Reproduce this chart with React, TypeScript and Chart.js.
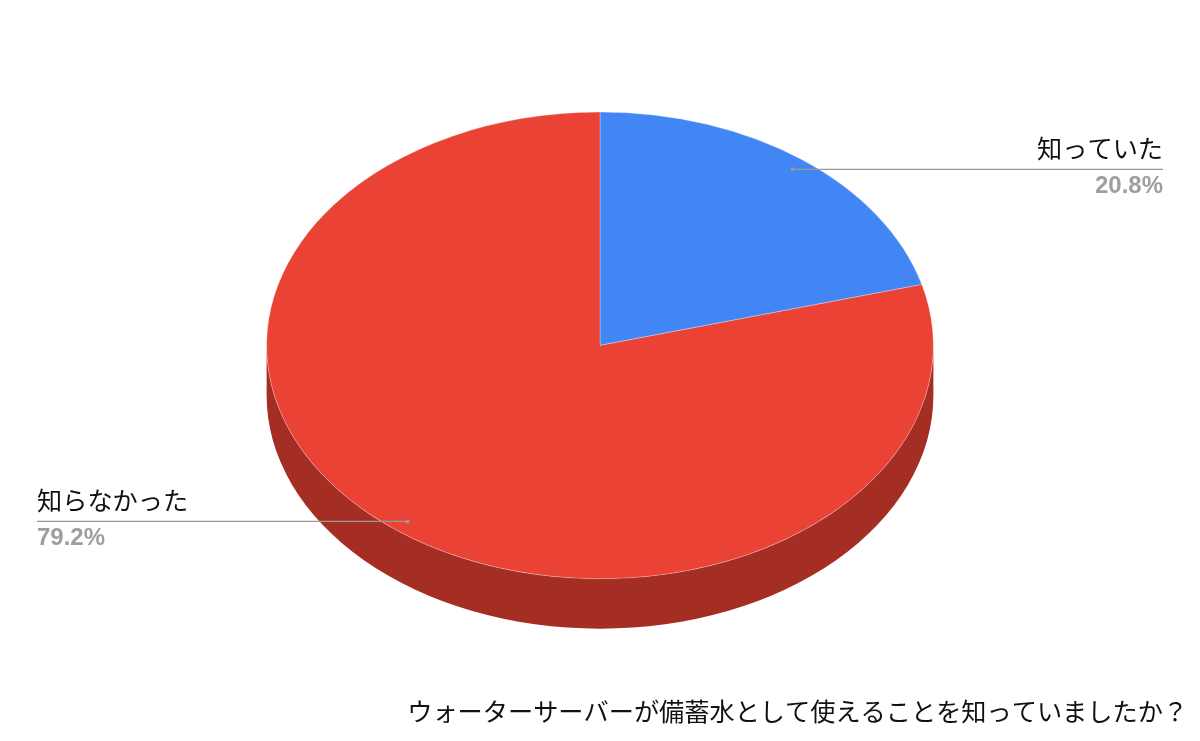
import React, { useEffect, useRef } from "react";
import { Chart, registerables } from "chart.js";

Chart.register(...registerables);

const categories = ["知っていた", "知らなかった"];
const values = [20.8, 79.2];
const percentLabels = ["20.8%", "79.2%"];
const sliceColors = ["#4285f4", "#ea4335"];
const wallColors = ["#2f5fb0", "#a52e24"];
const titleText = "ウォーターサーバーが備蓄水として使えることを知っていましたか？";

const SQUASH = 0.7;
const DEPTH = 50;
const CJK = '"Noto Sans CJK JP", sans-serif';

const piePerspective = {
  id: "piePerspective",
  beforeDatasetsDraw(chart: any) {
    const ctx = chart.ctx;
    const arcs = chart.getDatasetMeta(0).data;
    const cy = arcs[0].y;
    ctx.save();
    ctx.translate(0, cy);
    ctx.scale(1, SQUASH);
    ctx.translate(0, -cy);
    const dy = DEPTH / SQUASH;
    arcs.forEach((arc: any, i: number) => {
      const from = Math.max(arc.startAngle, 0);
      const to = Math.min(arc.endAngle, Math.PI);
      if (to <= from) return;
      ctx.beginPath();
      ctx.arc(arc.x, arc.y, arc.outerRadius, from, to, false);
      ctx.arc(arc.x, arc.y + dy, arc.outerRadius, to, from, true);
      ctx.closePath();
      ctx.fillStyle = wallColors[i];
      ctx.fill();
    });
  },
  afterDatasetsDraw(chart: any) {
    const ctx = chart.ctx;
    ctx.restore();
    const arcs = chart.getDatasetMeta(0).data;
    const anchors = [
      { lineEnd: 1163, align: "right" },
      { lineEnd: 37, align: "left" },
    ];
    arcs.forEach((arc: any, i: number) => {
      const mid = (arc.startAngle + arc.endAngle) / 2;
      const px = arc.x + Math.cos(mid) * arc.outerRadius * 0.95;
      const py = arc.y + Math.sin(mid) * arc.outerRadius * 0.95 * SQUASH;
      const a = anchors[i];
      ctx.save();
      ctx.strokeStyle = "#999999";
      ctx.lineWidth = 1.3;
      ctx.beginPath();
      ctx.moveTo(px, py);
      ctx.lineTo(a.lineEnd, py);
      ctx.stroke();
      ctx.fillStyle = "#999999";
      ctx.beginPath();
      ctx.arc(px, py, 2, 0, Math.PI * 2);
      ctx.fill();
      ctx.textAlign = a.align;
      ctx.textBaseline = "alphabetic";
      ctx.fillStyle = "#111111";
      ctx.font = `25.2px ${CJK}`;
      ctx.fillText(categories[i], a.lineEnd, py - 11);
      ctx.fillStyle = "#9e9e9e";
      ctx.font = 'bold 24px "Liberation Sans", Arial, sans-serif';
      ctx.fillText(percentLabels[i], a.lineEnd, py + 24);
      ctx.restore();
    });
  },
};

export default function App() {
  const ref = useRef<HTMLCanvasElement | null>(null);
  useEffect(() => {
    document.body.style.margin = "0";
    document.body.style.background = "#ffffff";
    const chart = new Chart(ref.current as HTMLCanvasElement, {
      type: "pie",
      data: {
        labels: categories,
        datasets: [
          {
            data: values,
            backgroundColor: sliceColors,
            borderColor: "rgba(255,255,255,0.35)",
            borderWidth: 1,
            hoverOffset: 0,
          },
        ],
      },
      options: {
        responsive: false,
        animation: false,
        layout: { padding: { top: 11.5, left: 12, right: 12, bottom: 0 } },
        plugins: {
          legend: { display: false },
          tooltip: { enabled: false },
          title: {
            display: true,
            text: titleText,
            position: "bottom",
            align: "end",
            color: "#111111",
            font: { family: CJK, size: 25.2, weight: "normal", lineHeight: 1.2 },
            padding: { top: 17, bottom: 14.5 },
          },
        },
      },
      plugins: [piePerspective],
    } as any);
    return () => chart.destroy();
  }, []);
  return (
    <div style={{ position: "absolute", left: 0, top: 0, width: 1200, height: 741 }}>
      <canvas ref={ref} width={1200} height={741} style={{ display: "block" }} />
    </div>
  );
}
